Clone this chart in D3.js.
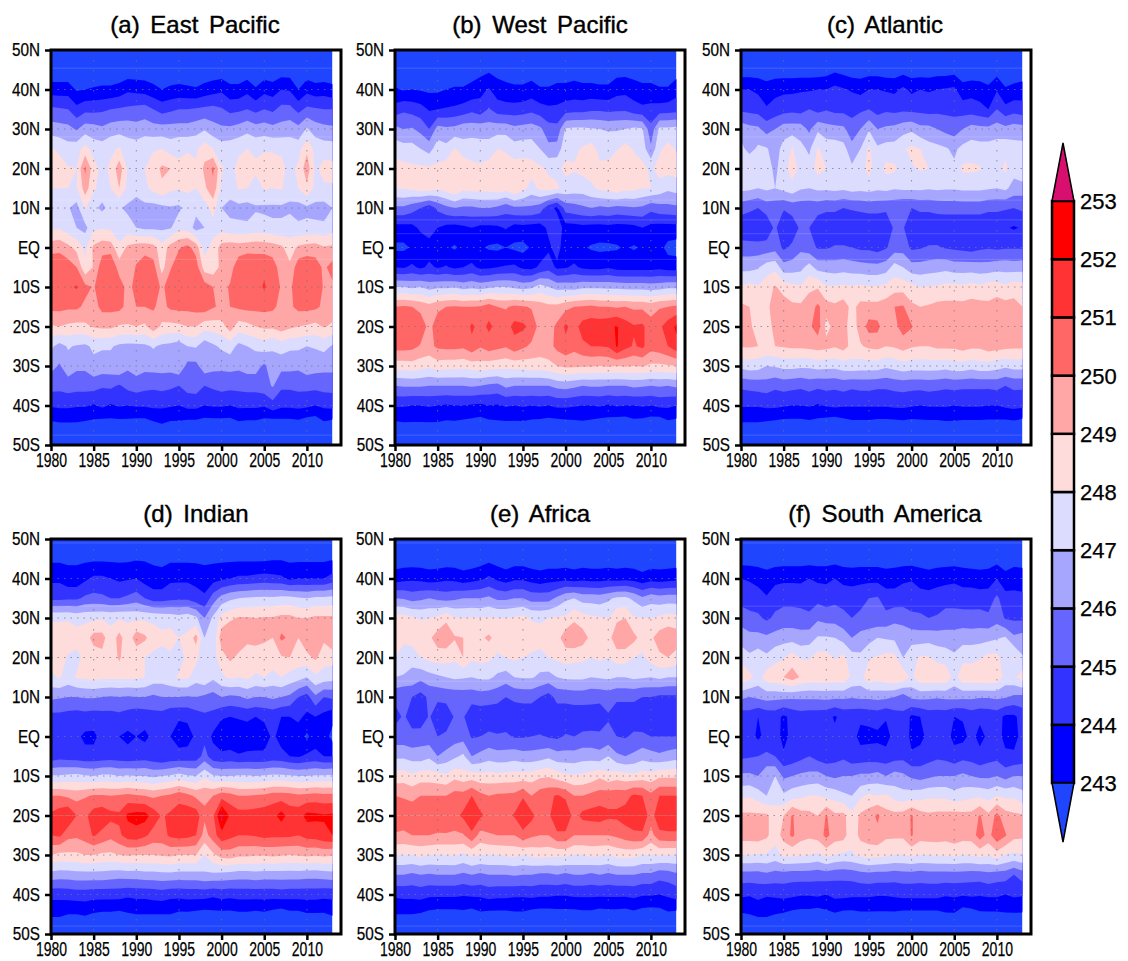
<!DOCTYPE html>
<html><head><meta charset="utf-8">
<script src="https://cdn.jsdelivr.net/npm/d3@7"></script>
<style>
html,body{margin:0;background:#fff}
text{font-family:"Liberation Sans",sans-serif;fill:#000}
</style></head><body><svg id="c" width="1128" height="961"></svg>
<script>
// Values are tenths of a kelvin above 240 K. Rows run from 45N to 45S, columns 1980..2013.
const years=d3.range(1980,2014);
const latRows=[50,45,40,35,30,25,20,15,10,5,0,-5,-10,-15,-20,-25,-30,-35,-40,-45,-50];
const edgeValue=18;
const levels=[243,244,245,246,247,248,249,250,251,252,253];
const bandColors=["#1f45ff","#0000ff","#3333ff","#6666ff","#a6a6ff","#dcdcff","#ffdcdc","#ffa6a6","#ff6666","#ff3333","#ff0000","#d80f6f"];
const yearTicks=[1980,1985,1990,1995,2000,2005,2010];
const latTicks=[50,40,30,20,10,0,-10,-20,-30,-40,-50];
const latLabels=["50N","40N","30N","20N","10N","EQ","10S","20S","30S","40S","50S"];

const eastPacific=[
[22,22,22,22,22,22,22,22,22,23,23,23,22,22,22,22,22,22,22,23,23,22,22,23,22,23,22,24,24,22,23,22,22,22],
[35,35,35,29,30,31,32,32,34,38,37,36,33,30,32,33,32,31,34,36,38,33,33,37,31,37,35,40,39,30,37,34,35,33],
[52,51,50,43,47,47,48,50,51,52,53,54,50,46,48,50,50,51,52,53,51,47,48,50,47,50,48,53,53,47,52,51,50,50],
[65,64,63,59,65,64,62,65,66,66,64,66,64,64,64,64,64,66,69,64,62,62,64,67,64,65,63,64,66,63,71,65,63,62],
[81,78,74,76,84,76,75,78,81,75,75,77,79,80,76,79,79,78,86,80,75,76,78,80,78,79,79,78,76,76,88,77,75,75],
[84,84,81,80,102,84,77,82,96,79,77,80,85,92,90,81,84,82,92,102,81,77,83,85,82,85,84,83,77,82,96,78,84,83],
[80,80,80,79,95,82,75,80,90,77,74,78,83,88,82,81,82,80,88,97,78,74,81,80,76,81,80,81,74,80,88,77,78,79],
[69,72,71,66,81,72,68,73,71,68,65,67,66,67,69,68,74,73,75,84,70,67,67,66,69,68,68,68,68,66,68,67,66,70],
[78,79,74,70,67,78,79,78,72,74,70,68,68,68,69,77,76,66,70,76,76,73,72,72,74,74,72,72,75,72,72,72,72,76],
[96,97,93,87,78,92,96,95,83,92,95,96,94,84,94,99,103,96,76,84,94,96,95,96,97,96,95,92,85,92,94,95,91,92],
[108,108,105,100,82,91,106,110,95,92,101,106,104,86,99,106,108,105,85,84,93,96,106,109,106,108,105,95,92,106,108,105,98,104],
[106,106,108,111,103,99,107,108,106,96,104,110,107,98,105,107,107,107,105,100,97,101,108,109,107,111,106,99,98,106,107,106,99,98],
[103,103,102,102,98,96,103,103,103,97,100,100,101,97,102,103,103,104,106,101,98,100,102,103,103,103,102,97,98,103,103,102,98,97],
[89,90,88,87,88,91,92,92,89,89,90,88,96,88,87,88,90,90,84,85,86,95,85,87,90,92,92,95,92,90,89,87,91,88],
[72,66,71,69,68,72,71,71,68,67,67,68,71,68,67,64,70,71,64,68,72,75,67,70,72,75,71,75,72,72,70,71,73,69],
[63,59,66,62,62,67,66,66,69,62,65,63,64,64,64,68,57,57,66,63,62,63,62,64,64,58,67,63,63,62,66,64,63,63],
[54,53,55,54,54,54,51,52,49,53,55,53,52,53,52,50,54,55,50,52,54,53,53,54,54,56,61,52,52,53,53,53,54,54],
[41,42,42,41,41,39,42,39,41,40,41,41,42,42,41,40,43,43,40,41,41,40,42,42,42,41,46,42,42,43,42,40,42,43],
[27,28,28,28,27,26,24,25,25,25,24,24,27,29,27,27,25,25,24,24,24,24,27,26,26,24,22,24,24,25,22,21,27,25]];

const westPacific=[
[24,24,24,24,24,24,24,24,24,25,26,28,26,25,24,24,25,24,24,24,24,25,24,24,24,24,26,26,25,24,24,24,24,25],
[31,29,30,29,28,28,30,31,31,33,37,41,35,33,32,32,34,31,31,33,33,34,33,33,32,32,36,37,35,33,33,31,31,36],
[44,48,46,44,39,40,41,42,44,47,44,51,45,44,44,45,47,44,42,42,45,46,46,48,48,47,48,48,44,42,43,44,45,46],
[63,60,61,57,50,64,62,63,66,66,66,65,66,66,63,64,65,62,54,53,71,72,72,71,70,69,69,70,72,71,53,72,72,73],
[76,74,74,70,66,75,73,81,74,75,74,75,80,79,74,75,75,70,63,64,77,78,81,84,77,77,79,84,79,75,62,78,84,79],
[85,83,82,82,82,82,85,87,88,83,82,84,86,84,85,86,84,82,78,78,82,81,83,84,82,82,88,84,84,83,78,84,84,85],
[80,81,82,85,85,82,85,90,83,84,84,84,86,84,90,83,76,82,84,81,77,75,75,78,82,83,87,83,83,80,80,76,72,74],
[58,58,54,50,44,52,57,60,58,58,60,60,58,54,58,58,58,55,44,38,54,56,58,60,58,59,57,58,59,58,53,56,57,58],
[36,36,37,42,46,40,37,36,38,40,37,37,38,41,36,37,36,36,42,46,36,36,37,36,36,37,36,36,37,40,37,36,36,36],
[28,28,31,33,35,33,31,29,32,33,31,29,28,30,28,27,31,33,38,44,34,32,31,29,28,28,29,31,29,31,33,33,27,26],
[40,39,42,38,42,39,41,38,40,42,38,38,40,41,42,38,37,42,46,38,39,42,38,37,37,39,36,36,36,36,36,37,35,35],
[70,70,68,70,66,68,68,69,66,68,66,68,70,70,68,66,68,74,70,66,66,65,68,68,68,67,67,66,66,66,65,66,68,68],
[100,101,100,97,94,98,100,101,100,100,101,105,100,99,102,101,99,95,93,93,97,100,101,102,100,100,99,100,98,98,96,99,100,102],
[106,107,108,106,97,105,106,107,102,112,106,112,107,106,113,112,107,96,96,102,112,106,114,116,116,117,121,115,111,112,104,108,115,122],
[104,104,103,99,97,102,103,103,102,107,101,105,103,101,106,102,98,96,96,103,107,103,108,110,110,111,121,113,109,112,104,106,110,117],
[85,85,86,84,82,85,84,84,83,85,86,85,84,83,84,84,85,85,87,90,92,92,91,91,90,91,90,91,90,91,88,88,89,90],
[60,61,61,61,60,60,60,60,60,61,60,58,57,62,60,60,60,60,60,63,64,62,60,61,61,60,60,60,62,61,60,61,60,62],
[41,41,40,40,41,40,39,40,40,39,38,40,39,41,40,41,40,41,40,42,42,41,40,40,41,39,41,40,40,41,40,42,42,40],
[27,28,28,28,28,28,27,27,26,25,24,26,27,27,27,27,26,25,24,24,25,26,27,26,24,24,22,22,25,24,22,21,26,25]];

const atlantic=[
[24,24,24,23,24,24,24,24,24,24,25,28,26,24,24,25,25,24,24,26,24,24,24,25,25,26,23,23,23,23,25,23,23,23],
[40,40,38,35,37,38,38,39,39,40,40,43,41,39,37,40,40,39,38,42,38,40,39,40,41,42,34,36,35,32,39,31,33,35],
[48,47,46,41,44,46,47,46,50,46,49,47,47,46,48,50,46,48,47,48,47,47,46,47,47,47,45,45,43,40,50,43,46,44],
[66,63,62,56,60,65,65,65,58,68,64,63,62,55,60,69,60,62,63,66,68,63,63,60,57,55,60,64,63,63,65,63,65,64],
[73,66,72,71,65,74,81,73,68,81,76,76,74,63,70,82,72,74,74,79,82,80,74,73,71,68,73,75,74,74,75,77,74,74],
[75,81,71,74,68,75,86,76,74,84,80,76,74,72,75,84,74,83,82,76,79,81,80,75,74,72,82,82,81,74,77,82,74,80],
[73,72,70,72,70,73,76,71,70,72,72,73,72,74,73,74,72,73,71,72,72,72,71,72,71,71,72,72,72,71,70,72,66,65],
[54,52,50,54,54,51,54,54,54,54,52,52,50,51,52,53,53,52,52,50,50,52,52,53,54,54,54,54,54,52,52,51,50,52],
[43,42,41,43,52,41,44,52,50,43,42,42,42,42,42,42,42,42,52,51,42,42,42,43,42,42,42,42,42,42,42,41,39,41],
[54,54,54,54,56,48,52,58,54,49,49,51,51,50,48,48,46,49,55,56,48,49,51,51,49,48,47,46,48,49,48,49,49,49],
[67,67,69,75,77,64,65,67,74,66,66,65,66,65,64,63,63,65,74,70,64,64,65,66,67,65,65,65,64,64,66,66,65,66],
[81,83,81,86,91,86,83,81,88,89,81,81,82,81,82,81,81,83,86,86,83,80,81,81,83,83,82,84,82,85,85,82,86,84],
[92,90,86,87,96,95,92,92,95,102,94,92,95,87,93,93,93,95,100,101,92,90,91,93,93,93,93,94,94,92,95,94,93,90],
[94,92,85,87,92,94,93,93,98,105,87,93,94,85,94,104,103,93,97,105,101,93,93,93,93,94,93,94,93,92,93,93,93,93],
[91,91,90,89,90,91,92,92,93,94,93,91,94,87,89,92,93,90,91,94,91,90,90,92,92,92,94,92,92,95,94,93,92,92],
[73,75,74,70,71,73,73,72,72,74,73,73,75,76,75,75,75,72,74,76,75,75,75,75,74,76,76,74,76,76,74,72,74,74],
[52,53,54,55,52,54,53,52,54,52,53,52,54,52,53,53,52,52,53,54,53,53,54,53,52,53,52,52,52,52,53,50,52,52],
[41,41,41,42,42,41,40,40,41,39,41,42,41,41,41,41,41,41,42,42,41,40,41,41,41,40,41,41,41,40,40,42,43,42],
[28,28,28,27,26,25,25,25,26,25,23,21,24,26,26,26,25,25,25,26,25,26,26,26,27,27,26,26,26,26,26,25,26,24]];

const indianOcean=[
[28,28,28,28,28,28,28,28,28,28,29,29,28,27,28,28,28,28,28,28,28,28,28,28,28,28,29,29,28,28,28,28,28,29],
[38,38,34,34,38,42,42,40,38,39,40,36,34,34,38,38,38,37,34,36,38,40,42,42,43,44,43,42,38,40,40,40,40,44],
[47,47,48,48,52,53,52,50,50,52,55,50,45,45,47,48,48,44,42,55,64,68,70,71,72,72,72,73,73,71,70,72,72,73],
[79,79,79,77,78,78,79,78,79,79,78,78,78,77,76,74,76,72,60,72,84,88,91,91,90,91,91,93,93,90,90,92,92,92],
[84,84,85,84,85,94,94,83,94,83,96,92,84,82,84,80,82,94,70,72,96,100,96,92,92,91,90,102,98,90,98,100,92,100],
[84,84,79,77,83,84,87,82,92,81,82,80,78,77,78,76,82,83,72,76,86,92,88,86,87,87,87,89,90,86,87,92,84,84],
[78,81,76,81,82,83,82,82,82,82,82,80,76,75,78,81,82,74,78,72,78,82,80,82,78,80,76,80,76,74,70,78,76,74],
[62,61,60,60,61,61,60,59,60,59,60,60,58,60,60,60,59,60,58,56,60,58,59,62,60,60,62,60,58,50,46,58,50,52],
[47,47,46,45,46,45,46,46,47,45,43,44,46,46,42,41,42,45,48,47,41,40,41,42,40,42,43,40,40,42,38,40,37,33],
[45,40,45,42,38,38,43,46,40,38,40,38,42,42,40,36,36,42,47,38,34,34,33,34,35,35,42,36,36,35,28,35,34,27],
[44,46,45,44,43,43,44,45,44,43,44,45,43,40,43,43,44,44,54,44,42,43,41,42,42,42,44,43,40,39,42,43,40,40],
[71,71,72,73,71,70,72,72,70,71,70,70,68,70,71,74,71,70,78,71,70,70,71,71,70,71,72,72,71,70,70,71,71,72],
[100,100,98,96,99,101,101,100,101,103,101,100,98,100,102,106,103,98,98,100,106,104,100,100,101,102,105,105,104,102,103,104,103,103],
[112,116,120,110,108,115,117,113,112,122,124,124,116,109,112,116,117,116,102,108,133,118,114,114,115,116,117,124,116,116,123,122,121,122],
[110,112,103,102,105,111,107,103,108,115,116,112,106,106,112,114,113,110,96,105,117,113,110,110,111,113,112,112,112,110,114,115,118,120],
[90,87,88,88,90,90,88,88,90,91,90,90,90,91,92,90,90,90,80,88,94,95,92,92,91,91,92,91,90,91,92,91,92,91],
[66,65,65,66,66,66,66,65,64,65,65,66,66,67,67,66,66,66,68,68,67,66,65,65,66,65,65,65,65,65,64,64,65,66],
[43,43,44,45,45,44,44,44,44,42,43,43,44,45,43,43,44,44,44,42,44,43,44,44,44,44,44,45,44,44,44,44,43,43],
[32,32,30,30,31,29,28,28,27,29,30,30,30,30,30,28,28,27,26,27,27,27,28,28,27,28,26,24,27,27,29,29,29,31]];

const africa=[
[24,24,24,24,24,24,24,24,24,24,25,27,25,24,25,25,24,24,24,24,24,24,24,24,24,24,24,24,24,24,24,24,24,24],
[35,37,38,37,35,36,38,37,34,36,38,42,38,35,38,38,36,34,36,36,37,35,37,36,36,37,36,37,36,33,36,35,36,37],
[60,59,56,58,60,58,56,58,60,60,60,62,58,58,60,60,56,56,56,62,68,70,66,66,65,68,72,72,68,62,66,64,65,65],
[84,84,82,79,80,82,88,81,80,81,80,81,80,80,81,83,79,78,80,81,82,88,84,82,81,80,88,90,81,80,80,82,84,83],
[86,82,85,87,88,95,97,91,90,86,88,92,86,85,86,87,86,85,85,86,96,98,95,87,85,86,97,98,93,86,88,95,98,96],
[80,76,73,80,83,85,84,82,90,82,83,82,78,80,82,80,78,76,80,82,84,83,82,80,82,80,85,84,80,78,84,88,90,86],
[70,69,67,63,66,68,70,72,71,70,72,72,68,65,70,71,71,68,66,70,72,72,72,70,71,72,70,70,72,71,70,72,70,70],
[52,50,50,46,52,52,53,53,54,54,55,54,53,50,52,53,53,50,46,53,53,54,54,53,53,54,52,52,52,50,50,48,48,48],
[47,51,47,43,51,44,44,51,51,43,44,44,44,43,44,44,44,42,44,44,44,44,44,45,44,49,44,44,44,43,44,44,43,43],
[54,54,52,55,54,50,52,55,56,49,50,52,51,52,49,49,50,51,49,48,51,50,52,52,52,53,50,49,52,52,50,50,50,50],
[68,68,66,65,68,60,64,68,72,60,63,66,64,64,66,64,64,65,68,64,64,64,66,66,64,70,62,60,62,66,64,62,64,66],
[84,85,82,85,85,84,82,87,84,85,83,84,83,84,84,84,85,88,89,85,82,81,82,84,88,83,86,84,83,85,84,88,88,88],
[100,99,97,100,100,100,100,104,104,110,103,100,102,102,103,109,100,106,108,111,108,100,100,103,105,106,106,106,112,110,103,110,110,110],
[106,106,107,107,107,107,108,107,112,118,112,107,106,107,111,118,113,105,108,118,118,106,113,114,115,112,112,115,116,118,105,118,118,118],
[99,98,100,100,100,99,99,98,99,108,96,99,100,100,100,107,102,100,100,108,108,100,100,100,100,100,102,105,108,108,96,107,108,108],
[80,80,80,82,80,80,80,81,78,82,80,80,80,81,82,80,82,84,83,82,82,80,80,82,81,80,83,84,83,80,80,81,80,80],
[60,60,58,60,59,60,60,60,58,60,58,60,60,60,61,60,60,58,58,60,58,60,60,58,60,58,60,60,60,58,58,54,55,58],
[42,43,43,44,42,42,42,42,41,42,42,44,43,43,42,42,43,42,42,41,41,42,42,42,42,42,42,42,43,41,41,40,42,44],
[30,30,30,29,27,26,26,26,27,25,28,27,27,27,28,28,26,25,25,26,26,26,27,27,25,26,26,25,27,25,24,25,28,27]];

const southAmerica=[
[25,25,25,25,25,25,25,25,25,25,25,26,25,25,25,25,25,25,25,25,25,25,25,25,25,25,25,25,25,25,26,25,25,25],
[40,39,37,34,37,38,38,38,40,38,38,40,37,36,37,37,37,35,36,38,39,36,34,36,37,38,36,35,34,35,40,33,37,36],
[46,45,44,41,46,47,47,46,44,47,45,47,46,46,47,50,51,45,44,46,46,44,44,45,46,46,45,46,45,45,52,44,42,42],
[56,53,52,48,52,54,54,54,53,58,56,56,53,50,52,53,52,53,57,55,52,52,50,51,54,54,54,53,54,52,56,49,48,48],
[65,63,63,62,64,66,66,64,65,71,71,70,66,60,64,66,70,69,68,68,66,65,66,65,64,64,66,66,66,67,69,71,62,64],
[77,72,76,72,77,79,85,79,79,84,84,79,83,74,72,79,81,83,83,70,77,81,81,77,76,72,77,77,79,83,83,74,81,71],
[88,83,76,85,87,90,95,89,86,87,86,86,87,78,76,87,84,87,89,87,78,87,88,88,87,76,87,87,88,89,87,76,78,85],
[62,60,62,64,63,63,62,62,62,62,63,62,62,61,62,62,63,62,60,55,62,63,62,61,62,63,62,62,61,61,62,61,58,57],
[44,45,40,43,44,38,43,45,44,44,43,39,43,43,42,43,44,41,45,48,38,40,44,44,44,40,41,44,42,43,44,38,38,44],
[45,44,38,43,46,36,44,44,46,44,43,42,44,44,37,37,38,36,44,50,36,37,43,44,44,37,37,43,37,42,44,37,36,44],
[48,49,50,52,50,42,44,47,50,46,44,46,48,44,44,45,44,44,46,47,42,44,46,48,47,44,47,46,43,46,47,42,42,44],
[62,62,60,68,70,58,60,62,63,64,60,58,60,60,62,62,64,60,64,62,58,56,58,60,60,60,62,60,58,58,60,56,60,60],
[78,79,75,70,76,72,76,78,80,80,77,76,72,70,78,82,80,82,76,74,75,76,78,78,78,74,76,78,78,76,80,78,78,74],
[92,92,92,92,84,90,101,94,93,90,101,92,93,83,92,95,102,94,93,94,101,94,92,93,93,94,93,93,101,92,103,94,92,91],
[94,94,95,92,84,94,102,94,92,94,103,95,94,83,93,95,97,92,92,92,101,94,95,95,94,96,94,94,105,96,108,101,93,92],
[80,80,79,79,76,82,82,81,80,78,83,80,78,79,82,84,83,82,80,80,82,80,80,81,81,82,80,81,83,81,85,80,78,80],
[56,56,56,58,56,56,55,55,55,54,55,53,53,54,56,57,56,56,55,56,56,55,56,56,56,56,56,55,55,57,55,55,50,55],
[42,41,43,41,42,43,42,41,41,42,40,43,43,42,42,42,41,41,42,43,43,43,43,43,41,42,41,42,41,42,42,40,42,41],
[29,30,32,32,30,29,27,26,26,24,27,29,27,27,28,28,28,28,28,27,27,27,27,27,29,29,24,25,28,28,28,29,29,29]];

const panelTitles=["(a) East Pacific","(b) West Pacific","(c) Atlantic","(d) Indian","(e) Africa","(f) South America"];
const panelGrids=[eastPacific,westPacific,atlantic,indianOcean,africa,southAmerica];
const panelLeft=[51,395,741,51,395,741];
const panelTop=[50,50,50,539,539,539];
const titleCentre=[195,540,885,196,540,885];
const faintLats=[[45.4,28,12,7,3.5,-3,-47.5],[45.4,28,12,7,3.5,-3,-47.5],[45.4,28,12,7,3.5,-3,-47.5],[49,33,14,-20,-48],[49,33,14,-20,-48],[49,33,14,-20,-48]];

function squeeze(sel,f){
  sel.each(function(){
    this.setAttribute("textLength",this.getComputedTextLength()*f);
    this.setAttribute("lengthAdjust","spacingAndGlyphs");
  });
}
const svg=d3.select("#c");
const W=290,H=395;
const offset=240;
panelGrids.forEach((rows,k)=>{
  const L=panelLeft[k],T=panelTop[k];
  const x=d3.scaleLinear([1980,2014],[L,L+W]);
  const y=d3.scaleLinear([50,-50],[T,T+H]);
  const g=svg.append("g");
  const id="clip"+k;
  g.append("clipPath").attr("id",id).append("rect")
    .attr("x",x(1980)).attr("y",y(50)).attr("width",x(2013)-x(1980)).attr("height",H);
  const plot=g.append("g").attr("clip-path",`url(#${id})`);
  plot.append("rect").attr("x",x(1980)).attr("y",y(50)).attr("width",x(2013)-x(1980)).attr("height",H).attr("fill",bandColors[0]);
  const edge=years.map(()=>edgeValue);
  const values=[edge,...rows,edge].flat().map(v=>v/10+offset);
  const cg=d3.contours().size([years.length,latRows.length]).smooth(true).thresholds(levels)(values);
  const project=d3.geoTransform({point(cx,cy){
    this.stream.point(x(years[0]+cx-0.5),y(latRows[0]-5*(cy-0.5)));
  }});
  const path=d3.geoPath(project);
  plot.selectAll("path.band").data(cg).join("path").attr("class","band")
    .attr("d",path).attr("fill",(d,i)=>bandColors[i+1]);
  faintLats[k].forEach(t=>{
    plot.append("line").attr("x1",x(1980)).attr("x2",x(2013)).attr("y1",y(t)).attr("y2",y(t))
     .attr("stroke","#fff").attr("stroke-opacity",.16).attr("stroke-width",1);
  });
  // dotted grid
  latTicks.slice(1,-1).forEach(t=>{
    g.append("line").attr("x1",x(1980)).attr("x2",x(2013)).attr("y1",y(t)).attr("y2",y(t))
     .attr("stroke","#777").attr("stroke-opacity",.75).attr("stroke-width",1).attr("stroke-dasharray","1.5 5");
  });
  yearTicks.slice(1).forEach(t=>{
    g.append("line").attr("x1",x(t)).attr("x2",x(t)).attr("y1",y(50)).attr("y2",y(-50))
     .attr("stroke","#777").attr("stroke-opacity",.75).attr("stroke-width",1).attr("stroke-dasharray","1.5 8.5");
  });
  g.append("rect").attr("x",L).attr("y",T).attr("width",W).attr("height",H)
    .attr("fill","none").attr("stroke","#000").attr("stroke-width",3);
  const ax=g.append("g").attr("transform",`translate(0,${T+H})`)
    .call(d3.axisBottom(x).tickValues(yearTicks).tickSize(6).tickPadding(2).tickFormat(d3.format("d")));
  ax.select(".domain").remove();
  ax.selectAll("line").attr("stroke","#000").attr("stroke-width",2.5);
  ax.selectAll("text").attr("font-size",20).attr("fill","#000").attr("stroke","#000").attr("stroke-width",.25).style("font-family",'"Liberation Sans",sans-serif').call(squeeze,.7);
  const ay=g.append("g").attr("transform",`translate(${L},0)`)
    .call(d3.axisLeft(y).tickValues(latTicks).tickSize(6).tickPadding(5).tickFormat((d,i)=>latLabels[i]));
  ay.select(".domain").remove();
  ay.selectAll("line").attr("stroke","#000").attr("stroke-width",2.5);
  ay.selectAll("text").attr("font-size",18).attr("fill","#000").attr("stroke","#000").attr("stroke-width",.25).style("font-family",'"Liberation Sans",sans-serif').call(squeeze,.85);
  g.append("text").attr("x",titleCentre[k]).attr("y",T-17).attr("text-anchor","middle")
    .attr("font-size",24).attr("word-spacing",4).attr("stroke","#000").attr("stroke-width",.4).text(panelTitles[k]);
});

// colour bar
const cb=d3.scaleLinear([243,253],[783,201]);
const barX=1052,barW=22;
const cbar=svg.append("g");
levels.slice(0,-1).forEach((lv,i)=>{
  cbar.append("rect").attr("x",barX).attr("width",barW).attr("y",cb(lv+1)).attr("height",cb(lv)-cb(lv+1))
    .attr("fill",bandColors[i+1]).attr("stroke","#000").attr("stroke-width",2.5);
});
cbar.append("path").attr("d",`M${barX},${cb(253)}L${barX+barW/2},143L${barX+barW},${cb(253)}Z`)
  .attr("fill",bandColors[11]).attr("stroke","#000").attr("stroke-width",1.5);
cbar.append("path").attr("d",`M${barX},${cb(243)}L${barX+barW/2},842L${barX+barW},${cb(243)}Z`)
  .attr("fill",bandColors[0]).attr("stroke","#000").attr("stroke-width",1.5);
levels.forEach(lv=>{
  cbar.append("text").attr("x",1080).attr("y",cb(lv)).attr("dy","0.36em").attr("font-size",22).attr("stroke","#000").attr("stroke-width",.25).text(lv);
});
</script></body></html>
